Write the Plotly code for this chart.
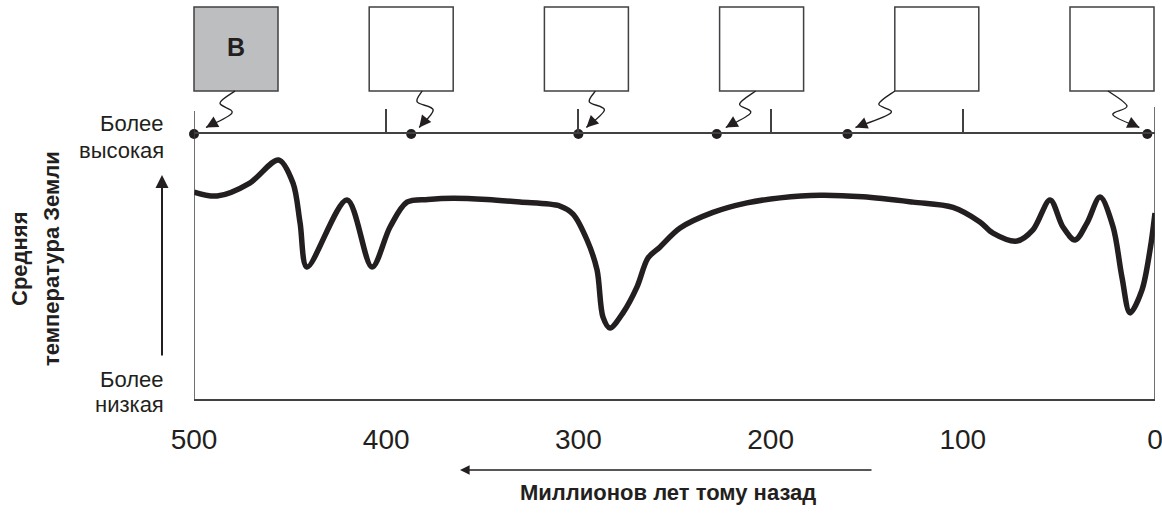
import plotly.graph_objects as go

# ---------------- data ----------------
# Temperature curve: millions of years ago vs relative average Earth temperature
# (0 = "Более низкая", 100 = "Более высокая")
mya = [500, 488, 471, 456, 448.5, 444.8, 441.2, 420.4, 407.4, 398, 389.2, 378.3,
       365.2, 347.6, 330.4, 309.6, 302.8, 295.5, 290.3, 287.2, 283.6, 276.8,
       269.5, 263.8, 257.5, 247.1, 230, 212.3, 195.1, 174.3, 151.9, 125.9,
       105.1, 91.1, 84.3, 71.8, 63.5, 54.6, 47.9, 41.6, 35.4, 28.6, 21.8,
       17.2, 13.0, 6.8, 2.6, 0]
temp = [78.1, 76.6, 81.5, 90.2, 81.5, 66.4, 49.8, 75.1, 49.8, 64.9, 74.3, 75.3,
        75.8, 75.3, 74.3, 72.8, 69.8, 60.0, 48.7, 30.9, 26.8, 32.5,
        42.3, 53.2, 57.4, 64.5, 70.4, 74.0, 75.9, 76.9, 76.3, 74.3,
        72.3, 66.8, 62.6, 59.6, 63.8, 75.1, 64.9, 60.0, 66.4, 76.2, 64.9,
        46.0, 32.5, 41.1, 56.2, 70.2]

# Events marked on the top time line
event_mya = [500, 387, 300, 228, 160, 4]
box_labels = ["В", "", "", "", "", ""]

tick_vals = [500, 400, 300, 200, 100, 0]
tick_text = ["500", "400", "300", "200", "100", "0"]
tick_marks_bottom = [500, 400, 300, 200, 100]
tick_marks_top = [400, 300, 200, 100]

y_label_high = ["Более", "высокая"]
y_label_low = ["Более", "низкая"]
y_title = ["Средняя", "температура Земли"]
x_title = "Миллионов лет тому назад"

# ---------------- layout geometry (pixels) ----------------
W, H = 1162, 514
PL, PR, PT, PB = 194, 1155, 134, 399
INK = "#231f20"
LINE = "#414042"
FONT = "Liberation Sans, Arial, sans-serif"


def pxp(px, py):
    """pixel -> paper coordinates"""
    return (px - PL) / (PR - PL), (PB - py) / (PB - PT)


def mya_px(m):
    return PL + (500 - m) / 500 * (PR - PL)


fig = go.Figure()

fig.add_trace(go.Scatter(
    x=mya, y=temp, mode="lines", line=dict(color=INK, width=5.5, shape="spline", smoothing=0.9),
    cliponaxis=False, hoverinfo="skip"))

fig.add_trace(go.Scatter(
    x=event_mya, y=[100] * len(event_mya), mode="markers", xaxis="x2",
    marker=dict(size=10, color=INK), cliponaxis=False, hoverinfo="skip"))

shapes = []
annotations = []

# vertical frame lines
y_top_left = pxp(0, 111)[1]
y_top_right = pxp(0, 107)[1]
shapes.append(dict(type="line", xref="x", yref="paper", x0=500, x1=500, y0=0, y1=y_top_left,
                   line=dict(color=LINE, width=1.5)))
shapes.append(dict(type="line", xref="x", yref="paper", x0=0, x1=0, y0=0, y1=y_top_right,
                   line=dict(color=LINE, width=1.5)))

# boxes
BOX_W = 84
BOX_TOP, BOX_BOT = 7, 91
BOX_STEP = 175.2
start_dx = [-1, 11, 9, -6, -42, -4]
bend1 = [(-15, 12), (-5, 11), (-6, 11), (-16, 13), (-16, 13), (19, 15)]
bend2 = [(-3, 22), (11, 19), (9, 19), (-5, 22), (-4, 22), (5, 24)]
end_dx = [12, 8, 8, 9, 8, -8]

for i, lab in enumerate(box_labels):
    left = PL + i * BOX_STEP
    x0, y0 = pxp(left, BOX_BOT)
    x1, y1 = pxp(left + BOX_W, BOX_TOP)
    shapes.append(dict(type="rect", xref="paper", yref="paper", x0=x0, x1=x1, y0=y0, y1=y1,
                       line=dict(color=LINE, width=1.5),
                       fillcolor="#bcbec0" if lab else "white"))
    cx = left + BOX_W / 2
    if lab:
        ax_, ay_ = pxp(cx, 47)
        annotations.append(dict(text="<b>" + lab + "</b>", xref="paper", yref="paper", x=ax_, y=ay_,
                                xanchor="center", yanchor="middle",
                                showarrow=False, font=dict(family=FONT, size=25, color=INK)))
    # squiggle
    S = (cx + start_dx[i], BOX_BOT)
    P1 = (S[0] + bend1[i][0], BOX_BOT + bend1[i][1])
    P2 = (S[0] + bend2[i][0], BOX_BOT + bend2[i][1])
    E = (mya_px(event_mya[i]) + end_dx[i], PT - 6.5)
    pts = [S, P1, P2, E]
    ext = [pts[0]] + pts + [pts[-1]]
    d = "M {:.5f},{:.5f}".format(*pxp(*S))
    for k in range(1, len(ext) - 2):
        p0, p1, p2, p3 = ext[k - 1], ext[k], ext[k + 1], ext[k + 2]
        c1 = (p1[0] + (p2[0] - p0[0]) / 6, p1[1] + (p2[1] - p0[1]) / 6)
        c2 = (p2[0] - (p3[0] - p1[0]) / 6, p2[1] - (p3[1] - p1[1]) / 6)
        d += " C {:.5f},{:.5f} {:.5f},{:.5f} {:.5f},{:.5f}".format(*pxp(*c1), *pxp(*c2), *pxp(*p2))
    shapes.append(dict(type="path", xref="paper", yref="paper", path=d,
                       line=dict(color=INK, width=1.4)))
    # arrow head at the end
    dx, dy = E[0] - P2[0], E[1] - P2[1]
    n = (dx ** 2 + dy ** 2) ** 0.5
    ex, ey = pxp(*E)
    annotations.append(dict(x=ex, y=ey, xref="paper", yref="paper", text="", showarrow=True,
                            ax=-dx / n * 9, ay=-dy / n * 9, arrowhead=2, arrowsize=1.7,
                            arrowwidth=1.4, arrowcolor=INK, standoff=0))

# left labels
for txt, py in zip(y_label_high, [123, 150]):
    x_, y_ = pxp(166, py)
    annotations.append(dict(text=txt, x=x_, y=y_, xref="paper", yref="paper", xanchor="right",
                            yanchor="middle", showarrow=False, font=dict(family=FONT, size=22, color=INK)))
for txt, py in zip(y_label_low, [379, 404]):
    x_, y_ = pxp(166, py)
    annotations.append(dict(text=txt, x=x_, y=y_, xref="paper", yref="paper", xanchor="right",
                            yanchor="middle", showarrow=False, font=dict(family=FONT, size=22, color=INK)))

# vertical arrow
tx, ty = pxp(162, 175)
annotations.append(dict(x=tx, y=ty, xref="paper", yref="paper", text="", showarrow=True,
                        ax=0, ay=182, arrowhead=2, arrowsize=1.3, arrowwidth=2, arrowcolor=INK, standoff=0))

# rotated title
for txt, px in zip(y_title, [19, 51]):
    x_, y_ = pxp(px, 259)
    annotations.append(dict(text="<b>" + txt + "</b>", x=x_, y=y_, xref="paper", yref="paper",
                            textangle=-90, showarrow=False, xanchor="center", yanchor="middle",
                            font=dict(family=FONT, size=22, color=INK)))

# bottom arrow & title
tx, ty = pxp(460, 470)
annotations.append(dict(x=tx, y=ty, xref="paper", yref="paper", text="", showarrow=True,
                        ax=413, ay=0, arrowhead=2, arrowsize=1.2, arrowwidth=1.6, arrowcolor=INK, standoff=0))
x_, y_ = pxp(668, 492)
annotations.append(dict(text="<b>" + x_title + "</b>", x=x_, y=y_, xref="paper", yref="paper",
                        xanchor="center", yanchor="middle",
                        showarrow=False, font=dict(family=FONT, size=22, color=INK)))

fig.update_layout(
    width=W, height=H,
    margin=dict(l=PL, r=W - PR, t=PT, b=H - PB, autoexpand=False),
    plot_bgcolor="white", paper_bgcolor="white", showlegend=False,
    xaxis=dict(range=[500, 0], showgrid=False, zeroline=False, showline=True, automargin=False,
               linecolor=LINE, linewidth=1.5, ticks="outside", ticklen=15,
               tickwidth=1.5, tickcolor="rgba(0,0,0,0)", tickvals=tick_vals, ticktext=tick_text,
               ticklabeloverflow="allow",
               tickfont=dict(family=FONT, size=28, color=INK)),
    xaxis3=dict(range=[500, 0], overlaying="x", anchor="y", side="bottom", showgrid=False,
                zeroline=False, showline=False, ticks="outside", ticklen=24, tickwidth=1.5,
                tickcolor=LINE, tickvals=tick_marks_bottom, showticklabels=False, automargin=False),
    xaxis2=dict(range=[500, 0], overlaying="x", anchor="y", side="top", showgrid=False,
                zeroline=False, showline=True, linecolor=LINE, linewidth=1.5,
                ticks="outside", ticklen=23, tickwidth=1.5, tickcolor=LINE, automargin=False,
                tickvals=tick_marks_top, showticklabels=False),
    yaxis=dict(range=[0, 100], visible=False, fixedrange=True),
    shapes=shapes, annotations=annotations,
)

fig.write_html("out.html", config={"displayModeBar": False},
               post_script="document.body.style.margin='0';")
